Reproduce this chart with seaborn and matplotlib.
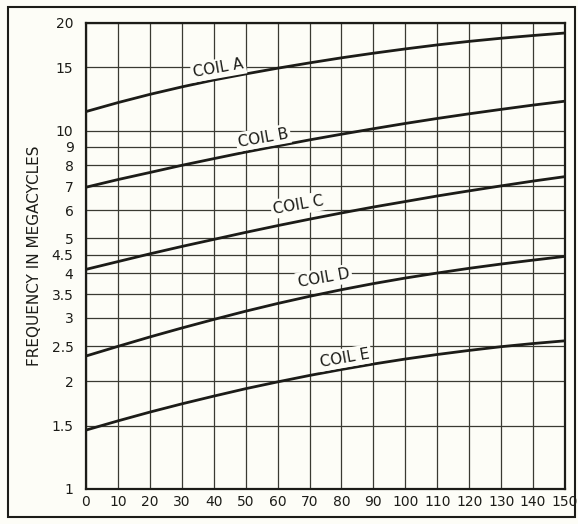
import numpy as np
import pandas as pd
import matplotlib
matplotlib.use("Agg")
import matplotlib.pyplot as plt
import seaborn as sns
from matplotlib.patches import Rectangle

# Dial setting (degrees) vs frequency (Mc)
dial = [0, 10, 20, 30, 40, 50, 60, 70, 80, 90, 100, 110, 120, 130, 140, 150]
coil_a = [11.3, 11.97, 12.62, 13.24, 13.84, 14.39, 14.93, 15.45, 15.96, 16.44, 16.9, 17.34, 17.74, 18.1, 18.42, 18.72]
coil_b = [6.95, 7.3, 7.64, 8.0, 8.35, 8.71, 9.06, 9.42, 9.77, 10.12, 10.47, 10.81, 11.14, 11.46, 11.78, 12.08]
coil_c = [4.1, 4.31, 4.53, 4.75, 4.97, 5.2, 5.43, 5.66, 5.89, 6.12, 6.34, 6.57, 6.79, 7.01, 7.23, 7.44]
coil_d = [2.35, 2.5, 2.656, 2.813, 2.972, 3.134, 3.293, 3.448, 3.598, 3.742, 3.878, 4.005, 4.128, 4.243, 4.351, 4.457]
coil_e = [1.46, 1.549, 1.639, 1.728, 1.816, 1.905, 1.99, 2.074, 2.155, 2.232, 2.305, 2.373, 2.436, 2.495, 2.546, 2.591]

coil_names = ["COIL A", "COIL B", "COIL C", "COIL D", "COIL E"]
# where each label sits (dial, freq)
label_x = [41.5, 55.5, 66.5, 74.5, 81]
label_y = [14.9, 9.55, 6.2, 3.88, 2.32]

y_ticks = [1, 1.5, 2, 2.5, 3, 3.5, 4, 4.5, 5, 6, 7, 8, 9, 10, 15, 20]
y_ticklabels = ["1", "1.5", "2", "2.5", "3", "3.5", "4", "4.5", "5", "6", "7", "8", "9", "10", "15", "20"]
x_ticks = list(range(0, 151, 10))

df = pd.DataFrame({
    "dial": dial * 5,
    "freq": coil_a + coil_b + coil_c + coil_d + coil_e,
    "coil": [n for n in coil_names for _ in dial],
})

sns.set_style("white")
plt.rcParams["font.family"] = ["DejaVu Sans"]

bg = "#fdfdf7"
ink = "#1c1c18"

fig = plt.figure(figsize=(5.78, 5.24), dpi=100, facecolor=bg)
ax = fig.add_axes([86 / 578, 1 - 489 / 524, (565 - 86) / 578, (489 - 22.7) / 524])
ax.set_facecolor(bg)

sns.lineplot(data=df, x="dial", y="freq", hue="coil", palette=[ink] * 5,
             linewidth=2.0, legend=False, ax=ax, zorder=3)

ax.set_yscale("log")
ax.set_xlim(0, 150)
ax.set_ylim(1, 20)
ax.set_yticks(y_ticks)
ax.set_yticklabels(y_ticklabels)
ax.yaxis.set_minor_locator(matplotlib.ticker.NullLocator())
ax.set_xticks(x_ticks)
ax.set_xticklabels([str(v) for v in x_ticks])
ax.tick_params(axis="y", length=0, labelsize=10, colors=ink, pad=9)
ax.tick_params(axis="x", length=0, labelsize=10, colors=ink, pad=4)
ax.grid(True, which="major", color="#3a3a32", linewidth=0.9)
ax.set_axisbelow(True)
for s in ax.spines.values():
    s.set_color(ink)
    s.set_linewidth(1.6)

ax.set_xlabel("")
ax.set_ylabel("FREQUENCY IN MEGACYCLES", fontsize=11, color=ink, labelpad=7)

for name, lx, ly in zip(coil_names, label_x, label_y):
    ax.text(lx, ly, name, fontsize=11, color=ink, ha="center", va="center",
            rotation=10, zorder=4,
            bbox=dict(facecolor=bg, edgecolor="none", pad=1.5))

# outer border around the whole figure
fig.patches.append(Rectangle((8 / 578, 1 - 517 / 524), (575 - 8) / 578, (517 - 7) / 524,
                             transform=fig.transFigure, fill=False,
                             edgecolor=ink, linewidth=1.5))

fig.savefig("out.png", dpi=100, facecolor=bg)
